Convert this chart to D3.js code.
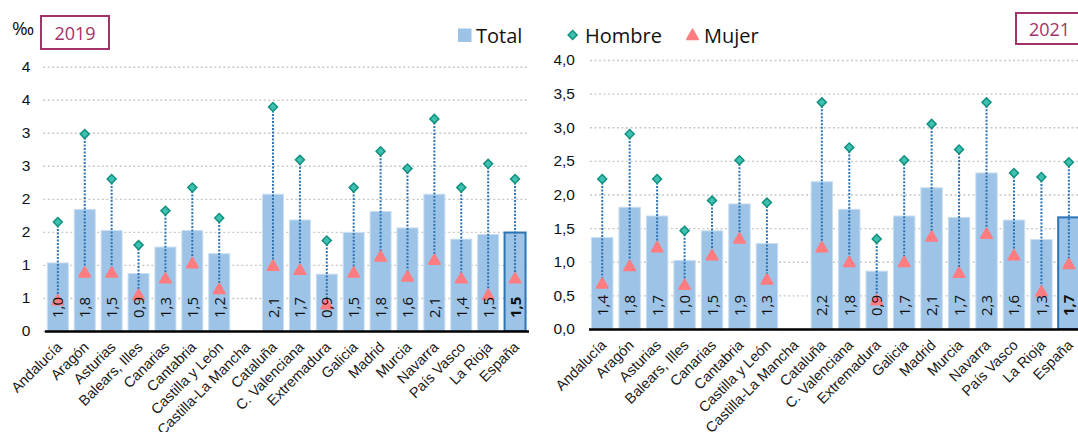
<!DOCTYPE html>
<html>
<head>
<meta charset="utf-8">
<script src="https://d3js.org/d3.v7.min.js"></script>
<style>
  body { margin: 0; background: #fff; }
  svg { font-family: "Open Sans", sans-serif; }
</style>
</head>
<body>
<div class="chart"></div>
<script>
// Categories (Castilla-La Mancha has no data)
var regions = ["Andalucía", "Aragón", "Asturias", "Balears, Illes", "Canarias", "Cantabria",
  "Castilla y León", "Castilla-La Mancha", "Cataluña", "C. Valenciana", "Extremadura", "Galicia",
  "Madrid", "Murcia", "Navarra", "País Vasco", "La Rioja", "España"];

// 2019 values (‰)
var total2019 = [1.03, 1.84, 1.52, 0.87, 1.27, 1.52, 1.17, null, 2.07, 1.68, 0.86, 1.49, 1.81, 1.56, 2.07, 1.39, 1.46, 1.49];
var hombre2019 = [1.65, 2.98, 2.30, 1.30, 1.82, 2.17, 1.71, null, 3.39, 2.59, 1.37, 2.17, 2.72, 2.46, 3.21, 2.17, 2.53, 2.30];
var mujer2019 = [0.45, 0.87, 0.87, 0.53, 0.78, 1.01, 0.62, null, 0.97, 0.91, 0.39, 0.87, 1.11, 0.81, 1.06, 0.78, 0.53, 0.78];

// 2021 values (‰)
var total2021 = [1.36, 1.81, 1.68, 1.02, 1.46, 1.86, 1.27, null, 2.19, 1.78, 0.86, 1.68, 2.10, 1.66, 2.32, 1.62, 1.33, 1.66];
var hombre2021 = [2.23, 2.90, 2.23, 1.46, 1.91, 2.51, 1.88, null, 3.37, 2.70, 1.34, 2.51, 3.05, 2.67, 3.37, 2.32, 2.26, 2.48];
var mujer2021 = [0.66, 0.92, 1.20, 0.64, 1.08, 1.33, 0.72, null, 1.20, 0.98, 0.41, 0.98, 1.36, 0.82, 1.40, 1.08, 0.54, 0.95];

// Y ticks and their labels as printed on each panel
var yTicks = [0, 0.5, 1, 1.5, 2, 2.5, 3, 3.5, 4];
var yLabels2019 = ["0", "1", "1", "2", "2", "3", "3", "4", "4"];
var yLabels2021 = ["0,0", "0,5", "1,0", "1,5", "2,0", "2,5", "3,0", "3,5", "4,0"];

var svgWidth = 1078;
var svgHeight = 432;

var svg = d3.select(".chart")
  .append("svg")
  .attr("width", svgWidth)
  .attr("height", svgHeight);

// Spanish number format for bar labels
var es = d3.formatLocale({decimal: ",", thousands: ".", grouping: [3], currency: ["", " €"]});
var fmt = es.format(".1f");

function drawPanel(p) {
  var x = d3.scaleBand()
    .domain(regions)
    .range(p.xRange)
    .paddingInner(0.22)
    .paddingOuter(0.11);
  var y = d3.scaleLinear().domain([0, 4]).range(p.yRange);

  var rows = regions.map(function(r, i) {
    return {region: r, total: p.total[i], hombre: p.hombre[i], mujer: p.mujer[i]};
  }).filter(function(d) { return d.total !== null; });

  function cx(d) { return x(d.region) + x.bandwidth() / 2; }

  // Dotted gridlines + y labels
  var yAxis = d3.axisLeft(y)
    .tickValues(yTicks)
    .tickSize(-(p.gridEnd - p.gridStart))
    .tickPadding(p.pad)
    .tickFormat(function(d, i) { return p.yLabels[i]; });
  var gy = svg.append("g")
    .attr("transform", "translate(" + p.gridStart + ",0)")
    .call(yAxis);
  gy.select(".domain").remove();
  gy.selectAll("line")
    .attr("stroke", "#c8c8c8")
    .attr("stroke-width", 1.4)
    .attr("stroke-dasharray", "2,2.5");
  gy.selectAll("text")
    .attr("font-size", 15.5)
    .attr("fill", "#111");

  // Total bars
  svg.append("g").selectAll("rect")
    .data(rows)
    .enter().append("rect")
    .attr("x", function(d) { return x(d.region); })
    .attr("width", x.bandwidth())
    .attr("y", function(d) { return y(d.total); })
    .attr("height", function(d) { return y(0) - y(d.total); })
    .attr("fill", "#9dc3e6")
    .attr("stroke", function(d) { return d.region === "España" ? "#2e75b6" : "#c9def1"; })
    .attr("stroke-width", function(d) { return d.region === "España" ? 2 : 1; });

  // X axis with rotated region names
  var gx = svg.append("g")
    .attr("transform", "translate(0," + y(0) + ")")
    .call(d3.axisBottom(x).tickSize(0).tickSizeOuter(0));
  gx.select(".domain")
    .attr("stroke", "#000")
    .attr("stroke-width", 2.5);
  gx.selectAll("text")
    .attr("y", 0)
    .attr("dy", 0)
    .attr("text-anchor", "end")
    .attr("transform", "translate(5,17) rotate(-45)")
    .attr("font-size", 14.5)
    .attr("fill", "#1a1a1a");

  // Dotted line between hombre and mujer
  svg.append("g").selectAll("line")
    .data(rows)
    .enter().append("line")
    .attr("x1", cx)
    .attr("x2", cx)
    .attr("y1", function(d) { return y(d.hombre); })
    .attr("y2", function(d) { return y(d.mujer); })
    .attr("stroke", "#2e75b6")
    .attr("stroke-width", 2)
    .attr("stroke-dasharray", "2,1.5");

  // Hombre diamonds
  svg.append("g").selectAll("path")
    .data(rows)
    .enter().append("path")
    .attr("d", d3.symbol().type(d3.symbolSquare).size(40))
    .attr("transform", function(d) { return "translate(" + cx(d) + "," + y(d.hombre) + ") rotate(45)"; })
    .attr("fill", "#3fc1b1")
    .attr("stroke", "#10907f")
    .attr("stroke-width", 1.5);

  // Mujer triangles
  svg.append("g").selectAll("path")
    .data(rows)
    .enter().append("path")
    .attr("d", d3.symbol().type(d3.symbolTriangle).size(52))
    .attr("transform", function(d) { return "translate(" + cx(d) + "," + y(d.mujer) + ")"; })
    .attr("fill", "#ff7c80")
    .attr("stroke", "#ff7c80")
    .attr("stroke-width", 2)
    .attr("stroke-linejoin", "round");

  // Value labels inside the bars
  svg.append("g").selectAll("text")
    .data(rows)
    .enter().append("text")
    .attr("transform", function(d) { return "translate(" + (cx(d) + 5.5) + "," + (y(0) - 13) + ") rotate(-90)"; })
    .attr("font-size", 15)
    .attr("font-weight", function(d) { return d.region === "España" ? "bold" : "normal"; })
    .attr("fill", "#111")
    .text(function(d) { return fmt(d.total); });
}

drawPanel({
  xRange: [44.4, 528.5], yRange: [331, 66.7],
  gridStart: 43.3, gridEnd: 528.3, pad: 13,
  yLabels: yLabels2019,
  total: total2019, hombre: hombre2019, mujer: mujer2019
});

drawPanel({
  xRange: [588.5, 1082.6], yRange: [329, 60],
  gridStart: 590, gridEnd: 1078, pad: 15,
  yLabels: yLabels2021,
  total: total2021, hombre: hombre2021, mujer: mujer2021
});

// Unit and year boxes
svg.append("text")
  .attr("x", 12).attr("y", 35)
  .attr("font-size", 19)
  .attr("fill", "#111")
  .text("‰");

var boxColor = "#a0336a";
svg.append("rect")
  .attr("x", 41).attr("y", 16).attr("width", 68).attr("height", 33)
  .attr("fill", "#fff").attr("stroke", boxColor).attr("stroke-width", 2);
svg.append("text")
  .attr("x", 75).attr("y", 39.5)
  .attr("text-anchor", "middle")
  .attr("font-size", 18)
  .attr("fill", boxColor)
  .text("2019");

svg.append("rect")
  .attr("x", 1016).attr("y", 13).attr("width", 68).attr("height", 31)
  .attr("fill", "#fff").attr("stroke", boxColor).attr("stroke-width", 2);
svg.append("text")
  .attr("x", 1049.5).attr("y", 35.5)
  .attr("text-anchor", "middle")
  .attr("font-size", 18)
  .attr("fill", boxColor)
  .text("2021");

// Legend
var legend = svg.append("g").attr("font-size", 20).attr("fill", "#111");
legend.append("rect")
  .attr("x", 458).attr("y", 28.5).attr("width", 13.5).attr("height", 13.5)
  .attr("fill", "#9dc3e6");
legend.append("text").attr("x", 476).attr("y", 42.5).text("Total");

legend.append("path")
  .attr("d", d3.symbol().type(d3.symbolSquare).size(40))
  .attr("transform", "translate(572.6,35) rotate(45)")
  .attr("fill", "#3fc1b1").attr("stroke", "#10907f").attr("stroke-width", 1.5);
legend.append("text").attr("x", 585).attr("y", 42.5).text("Hombre");

legend.append("path")
  .attr("d", d3.symbol().type(d3.symbolTriangle).size(52))
  .attr("transform", "translate(692.5,36)")
  .attr("fill", "#ff7c80").attr("stroke", "#ff7c80")
  .attr("stroke-width", 2).attr("stroke-linejoin", "round");
legend.append("text").attr("x", 704).attr("y", 42.5).text("Mujer");
</script>
</body>
</html>
